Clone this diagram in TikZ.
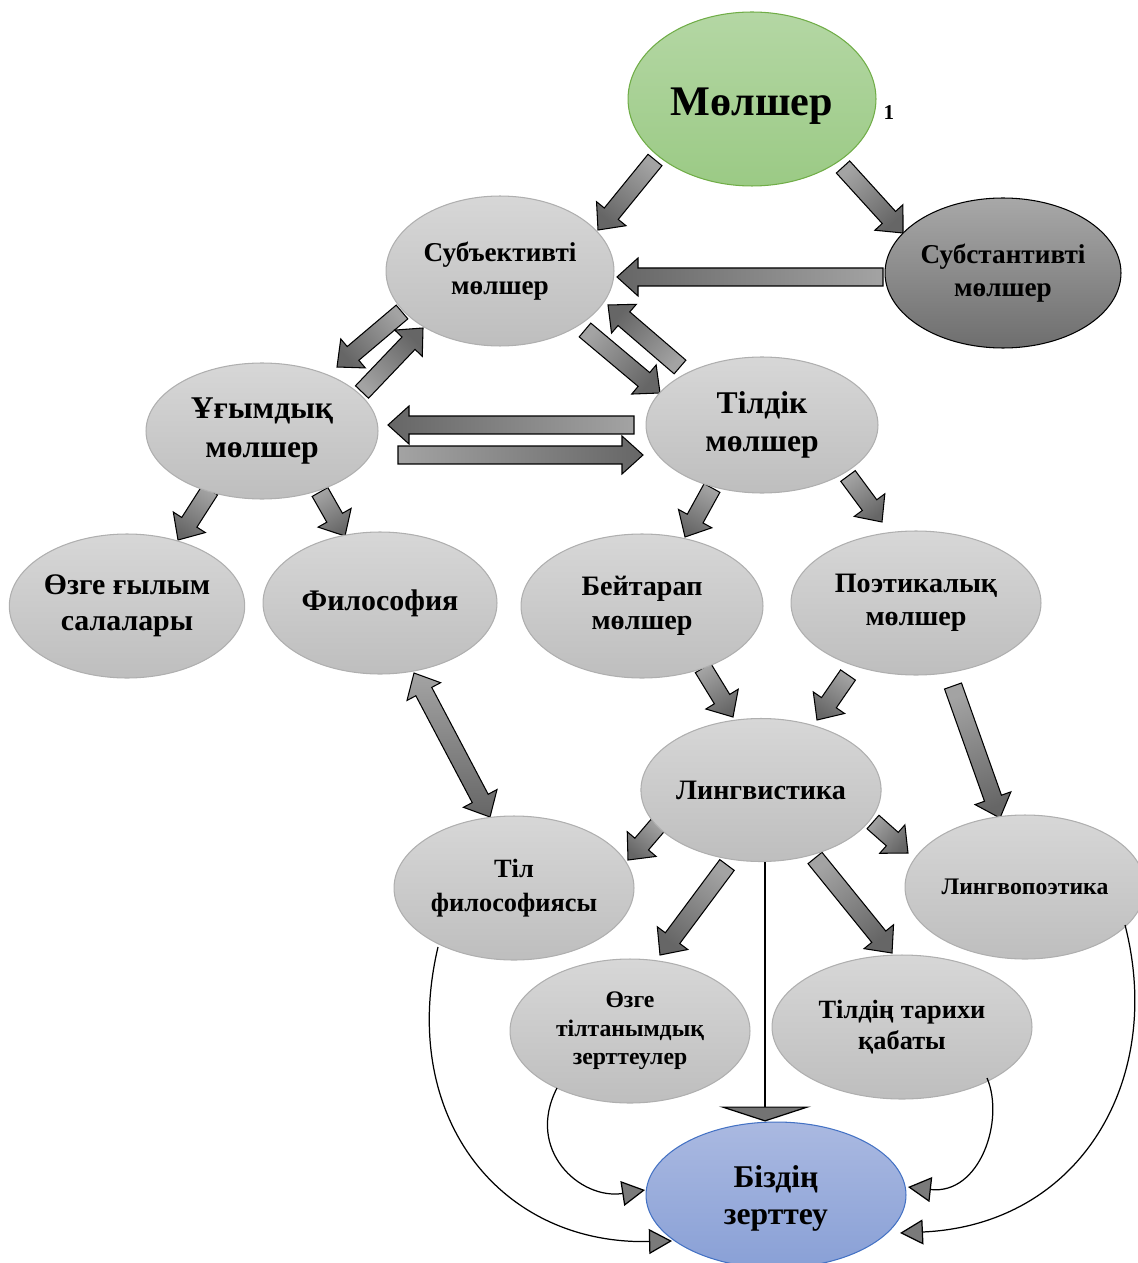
\documentclass[tikz,border=0pt]{standalone}
\usepackage{fontspec}
\setmainfont{Liberation Serif}
\usetikzlibrary{shapes.geometric,arrows.meta,calc,backgrounds}

\definecolor{grtop}{HTML}{D7D7D7}
\definecolor{grbot}{HTML}{BEBEBE}
\definecolor{grline}{HTML}{AFAFAF}
\definecolor{gntop}{HTML}{B4D7A4}
\definecolor{gnbot}{HTML}{9BCA85}
\definecolor{gnline}{HTML}{70AD47}
\definecolor{dktop}{HTML}{A8A8A8}
\definecolor{dkbot}{HTML}{6E6E6E}
\definecolor{bltop}{HTML}{AAB9E1}
\definecolor{blbot}{HTML}{89A0D6}
\definecolor{blline}{HTML}{4472C4}

% block arrow from #1 to #2
\newcommand{\barrow}[2]{%
  \coordinate (ba-s) at #1;
  \coordinate (ba-e) at #2;
  \path let \p1=(ba-s), \p2=(ba-e), \n1={atan2((\y2)-(\y1),(\x2)-(\x1))+90} in \pgfextra{\xdef\baang{\n1}};
  \coordinate (ba-b) at ($(ba-e)!0.42cm!(ba-s)$);
  \draw[blk, shading angle=\baang] ($(ba-s)!0.18cm!90:(ba-e)$) -- ($(ba-b)!0.18cm!90:(ba-e)$)
    -- ($(ba-b)!0.38cm!90:(ba-e)$) -- (ba-e) -- ($(ba-b)!0.38cm!-90:(ba-e)$)
    -- ($(ba-b)!0.18cm!-90:(ba-e)$) -- ($(ba-s)!0.18cm!-90:(ba-e)$) -- cycle;
}
% block arrow with two heads
\newcommand{\bdarrow}[2]{%
  \coordinate (ba-s) at #1;
  \coordinate (ba-e) at #2;
  \coordinate (ba-a) at ($(ba-s)!0.42cm!(ba-e)$);
  \coordinate (ba-b) at ($(ba-e)!0.42cm!(ba-s)$);
  \draw[blk] (ba-s) -- ($(ba-a)!0.38cm!90:(ba-e)$) -- ($(ba-a)!0.18cm!90:(ba-e)$)
    -- ($(ba-b)!0.18cm!90:(ba-e)$) -- ($(ba-b)!0.38cm!90:(ba-e)$) -- (ba-e)
    -- ($(ba-b)!0.38cm!-90:(ba-e)$) -- ($(ba-b)!0.18cm!-90:(ba-e)$)
    -- ($(ba-a)!0.18cm!-90:(ba-e)$) -- ($(ba-a)!0.38cm!-90:(ba-e)$) -- cycle;
}

\tikzset{
  bubble/.style={ellipse, inner sep=0pt, align=center, top color=grtop, bottom color=grbot, draw=grline, line width=0.6pt},
  greenb/.style={bubble, top color=gntop, bottom color=gnbot, draw=gnline},
  darkb/.style={bubble, top color=dktop, bottom color=dkbot, draw=black},
  blueb/.style={bubble, top color=bltop, bottom color=blbot, draw=blline},
  fs/.style args={#1/#2}{font=\fontsize{#1}{#2}\selectfont\bfseries},
  blk/.style={draw=black, line width=0.6pt, top color=black!36, bottom color=black!60},
  thin/.style={draw=black, line width=0.7pt, -{Triangle[length=0.46cm,width=0.5cm,fill=black!52]}},
}

\begin{document}
\begin{tikzpicture}[x=0.02cm, y=-0.02cm]
  \useasboundingbox (0,0) rectangle (1137,1263);

  \node [greenb, fs=24/29, minimum width=4.96cm, minimum height=3.48cm] (mol) at (752,99) {\raisebox{-4pt}[\height][\depth]{Мөлшер}};
  \node [fs=12/14] (num) at (889,113) {1};
  \node [bubble, fs=15.5/18.5, minimum width=4.56cm, minimum height=3.0cm] (sub) at (500,271) {Субъективті\\мөлшер};
  \node [darkb, fs=15.5/18.5, minimum width=4.72cm, minimum height=3.0cm] (sst) at (1003,273) {Субстантивті\\мөлшер};
  \node [bubble, fs=18/22.5, minimum width=4.64cm, minimum height=2.72cm] (ugy) at (262,431) {Ұғымдық\\мөлшер};
  \node [bubble, fs=18/22, minimum width=4.64cm, minimum height=2.72cm] (til) at (762,425) {Тілдік\\мөлшер};
  \node [bubble, fs=17/20.5, minimum width=4.68cm, minimum height=2.88cm] (ozg) at (127,606) {Өзге ғылым\\салалары};
  \node [bubble, fs=17/20.5, minimum width=4.68cm, minimum height=2.84cm] (fil) at (380,603) {Философия};
  \node [bubble, fs=16/19, minimum width=4.84cm, minimum height=2.88cm] (bei) at (642,606) {Бейтарап\\мөлшер};
  \node [bubble, fs=16/19, minimum width=5.0cm, minimum height=2.88cm] (poe) at (916,603) {Поэтикалық\\мөлшер};
  \node [bubble, fs=16/19, minimum width=4.72cm, minimum height=2.86cm] (lin) at (761,790) {Лингвистика};
  \node [bubble, fs=15/19, minimum width=4.8cm, minimum height=2.88cm] (tfi) at (514,888) {Тіл\\философиясы};
  \node [bubble, fs=13.5/16.2, minimum width=4.8cm, minimum height=2.88cm] (lpo) at (1025,887) {Лингвопоэтика};
  \node [bubble, fs=13.5/16.2, minimum width=4.8cm, minimum height=2.88cm] (otz) at (630,1031) {Өзге\\тілтанымдық\\зерттеулер};
  \node [bubble, fs=15/18, minimum width=5.2cm, minimum height=2.88cm] (tta) at (902,1027) {Тілдің тарихи\\қабаты};
  \node [blueb, fs=18/21.5, minimum width=5.2cm, minimum height=2.92cm] (biz) at (776,1195) {\raisebox{-2pt}[\height][\depth]{Біздің}\\\raisebox{-2pt}[\height][\depth]{зерттеу}};

  \begin{pgfonlayer}{background}
    \barrow{($(mol)+(-97,61)$)}{($(sub)+(98,-41)$)}
    \barrow{($(mol)+(91,68)$)}{($(sst)+(-100,-40)$)}
    \barrow{($(sst)+(-120,4)$)}{($(sub)+(117,6)$)}
    \barrow{($(sub)+(-98,41)$)}{($(ugy)+(75,-64)$)}
    \barrow{($(ugy)+(100,-39)$)}{($(sub)+(-77,57)$)}
    \barrow{($(til)+(-82,-58)$)}{($(sub)+(108,34)$)}
    \barrow{($(sub)+(85,59)$)}{($(til)+(-102,-32)$)}
    \barrow{($(til)+(-128,0)$)}{($(ugy)+(126,-6)$)}
    \barrow{($(ugy)+(136,24)$)}{($(til)+(-119,30)$)}
    \barrow{($(ugy)+(-52,59)$)}{($(ozg)+(51,-66)$)}
    \barrow{($(ugy)+(58,61)$)}{($(fil)+(-35,-67)$)}
    \barrow{($(til)+(-50,63)$)}{($(bei)+(43,-69)$)}
    \barrow{($(til)+(86,51)$)}{($(poe)+(-34,-81)$)}
    \barrow{($(bei)+(61,62)$)}{($(lin)+(-28,-73)$)}
    \barrow{($(poe)+(-68,72)$)}{($(lin)+(56,-70)$)}
    \barrow{($(poe)+(37,83)$)}{($(lpo)+(-25,-69)$)}
    \bdarrow{($(fil)+(34,70)$)}{($(tfi)+(-24,-71)$)}
    \barrow{($(lin)+(-103,35)$)}{($(tfi)+(114,-28)$)}
    \barrow{($(lin)+(-34,75)$)}{($(otz)+(30,-76)$)}
    \barrow{($(lin)+(54,68)$)}{($(tta)+(-10,-74)$)}
    \barrow{($(lin)+(112,32)$)}{($(lpo)+(-117,-34)$)}
  \end{pgfonlayer}

  \coordinate (vl) at ($(lin.south)+(4,0)$);
  \draw [line width=0.7pt, -{Triangle[length=0.3cm,width=1.84cm,fill=black!55]}] (vl) -- (vl |- biz.north);

  \draw [thin] ($(tfi)+(-76,59)$) .. controls +(-40,170) and +(-172,4) .. ($(biz)+(-104,46)$);
  \draw [thin] ($(otz)+(-73,57)$) .. controls +(-32,62) and +(-65,10) .. ($(biz)+(-131,-5)$);
  \draw [thin] ($(tta)+(85,51)$) .. controls +(18,42) and +(72,8) .. ($(biz)+(132,-8)$);
  \draw [thin] ($(lpo)+(100,38)$) .. controls +(40,155) and +(180,-8) .. ($(biz)+(124,38)$);
\end{tikzpicture}
\end{document}
